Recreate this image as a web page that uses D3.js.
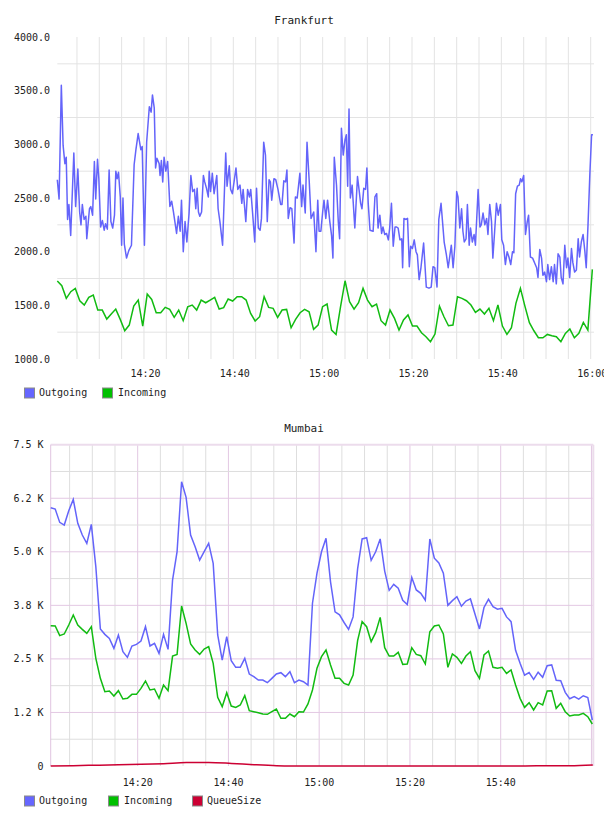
<!DOCTYPE html>
<html><head><meta charset="utf-8">
<script src="https://cdn.jsdelivr.net/npm/d3@7"></script>
<style>html,body{margin:0;padding:0;background:#fff;} text{font-family:"DejaVu Sans Mono",monospace;fill:#222;}</style>
</head><body><svg id="c" width="608" height="816"></svg>
<script>
// ---------- DATA ----------
const frankfurtTitle = "Frankfurt";
const mumbaiTitle = "Mumbai";
const seriesNames = ["Outgoing", "Incoming", "QueueSize"];

// Frankfurt outgoing: minutes after 14:00 and values
const fraOutMinutes = [0.6,1.0,1.5,1.9,2.3,2.6,2.9,3.2,3.6,4.3,4.7,5.2,5.6,5.9,6.2,6.6,7.0,7.2,7.8,8.1,8.5,8.9,9.2,9.6,9.9,10.3,10.7,11.1,11.4,11.8,12.2,12.6,13.0,13.4,13.7,14.0,14.3,14.7,15.0,15.3,15.6,16.1,16.6,17.2,17.8,18.2,18.7,19.3,19.6,20.1,20.6,21.2,21.6,21.9,22.3,22.6,22.9,23.4,23.6,23.9,24.2,24.5,24.9,25.3,25.8,26.2,26.6,27.3,27.7,28.1,28.4,28.8,29.2,29.6,30.1,30.5,30.9,31.3,31.6,31.9,32.2,32.5,32.9,33.3,33.6,34.0,34.4,34.6,34.9,35.3,35.7,36.3,36.6,37.0,37.6,38.3,38.6,39.1,39.4,39.8,40.6,41.0,41.5,41.9,42.2,42.8,43.2,43.6,43.9,44.3,44.8,45.2,45.6,46.0,46.3,46.8,47.2,47.6,48.0,48.3,48.6,49.1,49.5,50.0,50.6,50.9,51.3,51.7,52.0,52.3,52.7,53.1,53.6,53.9,54.3,54.9,55.3,55.6,56.1,56.5,57.0,57.4,57.7,58.0,58.5,58.9,59.2,59.6,60.0,60.3,60.7,61.1,61.6,62.0,62.3,62.6,63.1,63.5,63.8,64.2,64.6,65.0,65.3,65.6,65.9,66.2,66.6,67.2,67.8,68.2,68.5,68.8,69.2,69.6,69.9,70.2,70.6,71.3,71.7,72.1,72.4,72.8,73.2,73.5,73.9,74.3,74.7,75.0,75.4,75.8,76.2,76.5,76.9,77.3,77.7,77.9,78.2,78.6,79.0,79.4,79.7,80.1,80.5,80.9,81.2,81.6,82.0,82.6,83.2,83.8,84.3,84.7,85.1,85.6,86.0,86.5,87.2,87.7,88.1,88.5,88.8,89.2,89.6,90.0,90.3,90.7,91.1,91.4,91.7,92.1,92.4,92.8,93.1,93.5,93.9,94.2,94.8,95.2,95.5,95.9,96.3,96.7,97.0,97.4,97.8,98.1,98.5,98.9,99.3,99.8,100.1,100.5,100.9,101.3,101.7,102.1,102.5,102.8,103.2,103.6,104.0,104.3,104.6,105.0,105.4,105.8,106.1,106.5,107.0,107.5,107.9,108.2,108.6,109.0,109.3,109.7,110.1,110.4,110.8,111.2,111.6,111.9,112.3,112.7,113.1,113.4,113.8,114.2,114.6,114.9,115.3,115.7,116.0,116.4,116.8,117.2,117.5,117.9,118.3,118.7,119.0,119.4,119.8,120.2,120.5];
const fraOutValues = [2670,2490,3550,2990,2820,2880,2300,2440,2150,2920,2420,2770,2370,2250,2440,2300,2330,2120,2400,2420,2340,2840,2490,2860,2680,2230,2290,2200,2260,2210,2760,2280,2220,2340,2750,2680,2740,2510,2060,2500,2070,1940,2010,2060,2810,2950,3100,2950,2980,2060,3020,3350,3300,3460,3340,2780,2870,2820,2710,2850,2650,2880,2750,2840,2420,2470,2370,2170,2330,2190,2480,2000,2280,2090,2360,2710,2560,2580,2400,2590,2370,2330,2370,2710,2650,2590,2510,2750,2560,2730,2540,2710,2400,2280,2060,2920,2610,2800,2580,2540,2780,2580,2620,2450,2580,2280,2580,2510,2580,2370,2090,2590,2220,2200,2310,3020,2900,2280,2670,2650,2480,2680,2670,2580,2440,2440,2660,2650,2760,2310,2410,2400,2080,2510,2500,2730,2420,2620,2360,3020,2650,2310,2340,2370,2000,2480,2190,2190,2370,2480,2310,2480,2280,2150,1940,2880,2620,2280,2120,3150,2900,3040,3090,2610,3330,2500,2620,2220,2700,2560,2450,2400,2590,2580,2780,2450,2200,2190,2510,2540,2220,2340,2170,2230,2160,2170,2110,2220,2450,2050,2230,2230,2220,2110,2120,1850,2310,2300,2310,1860,2050,2030,2110,2000,1970,1740,1850,2080,1670,1660,1670,1860,1850,1670,2300,2450,2090,1970,1850,1970,2060,1850,2050,2560,2510,2220,2400,2190,2090,2120,2440,2060,2220,2090,2160,2060,2580,2230,2250,2360,2250,2310,2160,2440,2280,1940,2190,2450,2340,2440,2110,2060,1880,2000,1950,1880,2000,1990,2540,2610,2620,2680,2650,2710,2160,2280,2340,1950,1940,1890,1850,1760,2020,1940,1780,1810,1720,1880,1740,1860,1720,1880,1700,1980,1950,1760,1700,2060,1850,1940,1760,2030,1900,1810,1830,2120,1950,2090,2160,2000,1850,2250,2710,3090,3090];
// Frankfurt incoming: one value per minute, 14:00:36 .. 16:00:22
const fraInSpan = [0.6, 120.37];
const fraInValues = [1726,1683,1565,1627,1658,1543,1503,1574,1596,1456,1456,1372,1419,1465,1369,1263,1316,1493,1549,1307,1605,1555,1431,1431,1481,1462,1388,1456,1357,1487,1503,1456,1549,1524,1549,1574,1465,1478,1559,1540,1580,1580,1549,1425,1354,1394,1580,1481,1472,1388,1456,1462,1291,1369,1431,1462,1440,1276,1316,1487,1512,1270,1229,1487,1729,1534,1465,1524,1658,1549,1487,1512,1357,1316,1456,1378,1270,1363,1410,1307,1307,1245,1208,1161,1232,1493,1394,1310,1316,1580,1565,1543,1503,1434,1465,1419,1472,1357,1503,1307,1229,1291,1518,1658,1493,1338,1263,1198,1198,1229,1217,1208,1161,1239,1279,1198,1239,1341,1270,1835];
const fraXDomain = [0.6, 120.74];
const fraYTicks = [1000,1500,2000,2500,3000,3500,4000];
const fraYTickLabels = ["1000.0","1500.0","2000.0","2500.0","3000.0","3500.0","4000.0"];
const fraXTickLabels = ["14:20","14:40","15:00","15:20","15:40","16:00"];

// Mumbai: one sample per minute
const mumSpan = [0.83, 120.19];
const mumOutValues = [6029,5998,5687,5625,5959,6224,5664,5392,5197,5641,4652,3200,3073,2980,2746,3058,2669,2536,2801,2840,2918,3252,2801,2863,2630,3073,2723,4341,5002,6636,6271,5392,5119,4808,5002,5197,4730,3058,2474,3019,2458,2303,2303,2513,2147,2085,2007,2007,1945,2046,2147,2178,2085,2202,1945,2007,1968,1890,3800,4500,5000,5314,4300,3600,3530,3350,3190,3480,4600,5300,5330,4800,5000,5300,4550,4100,4240,4150,3870,3770,4400,4110,4030,3870,5300,4850,4740,4500,3750,3860,3950,3730,3850,3900,3550,3200,3700,3890,3720,3660,3680,3480,3370,2700,2400,2120,2180,2020,2190,2070,2340,2360,2000,1990,1720,1570,1620,1560,1640,1600,1074];
const mumInValues = [3275,3268,3042,3081,3291,3524,3291,3190,3096,3252,2513,2046,1735,1751,1634,1758,1564,1579,1673,1673,1813,1984,1774,1797,1579,1891,1758,2567,2606,3734,3330,2848,2708,2606,2731,2785,2396,1603,1385,1712,1400,1369,1424,1642,1292,1268,1245,1214,1206,1268,1330,1112,1112,1214,1151,1268,1260,1450,1774,2280,2552,2708,2357,2046,2046,1929,1890,2124,2925,3369,3252,2902,3112,3470,2762,2567,2567,2653,2373,2381,2762,2606,2575,2381,3135,3268,3291,3081,2303,2614,2536,2396,2567,2669,2225,2046,2591,2684,2303,2280,2303,2163,2241,1891,1579,1369,1478,1307,1478,1424,1751,1758,1346,1463,1268,1167,1190,1190,1229,1151,980];
const mumQueueSpan = [0.83, 120.3];
const mumQueueValues = [0,8,18,28,40,55,80,82,60,30,8,2,0,0,0,0,0,0,0,0,0,2,5,8,25];
const mumXDomain = [0.83, 120.41];
const mumYTicks = [0,1250,2500,3750,5000,6250,7500];
const mumYTickLabels = ["0","1.2 K","2.5 K","3.8 K","5.0 K","6.2 K","7.5 K"];
const mumXTickLabels = ["14:20","14:40","15:00","15:20","15:40"];

// ---------- STYLE ----------
const colors = {Outgoing:"#6666ff", Incoming:"#00c000", QueueSize:"#cc0033"};
const lineColors = {Outgoing:"#6464fa", Incoming:"#11bb11", QueueSize:"#cc0033"};

// ---------- HELPERS ----------
const base = new Date(2020,0,1,14,0,0).getTime();
const tm = m => new Date(base + m*60000);
const parseHM = s => { const [h,mm] = s.split(":").map(Number); return (h-14)*60+mm; };
const spread = (vals, span) => vals.map((v,i) => ({t: tm(span[0] + (span[1]-span[0])*i/(vals.length-1)), v}));

const svg = d3.select("#c");
svg.append("rect").attr("width",608).attr("height",816).attr("fill","#fff");
svg.append("defs").append("clipPath").attr("id","topclip")
  .append("rect").attr("x",0).attr("y",0).attr("width",604).attr("height",410);

function legend(g, y, names, xs, txs) {
  names.forEach((n,i) => {
    g.append("rect").attr("x",xs[i]).attr("y",y-4.5).attr("width",10).attr("height",10)
      .attr("fill",colors[n]).attr("stroke","#8a8a8a").attr("stroke-width",1);
    g.append("text").attr("x",txs[i]).attr("y",y).attr("dy","0.35em")
      .attr("font-size",10).text(n);
  });
}

// ---------- FRANKFURT ----------
{
  const g = svg.append("g").attr("clip-path","url(#topclip)");
  const x = d3.scaleTime().domain(fraXDomain.map(tm)).range([57.3, 594]);
  const y = d3.scaleLinear().domain([1000,4000]).range([359, 37]);
  const gridC = "#e3e3e3";
  const vt = d3.range(5, 121, 5).map(tm).filter(d => x(d) >= 57 && x(d) <= 594);
  g.selectAll(".vg").data(vt).join("line")
    .attr("x1",d=>x(d)).attr("x2",d=>x(d)).attr("y1",37).attr("y2",359)
    .attr("stroke",gridC).attr("stroke-width",1);
  const ht = d3.range(1250, 4000, 500);
  g.selectAll(".hg").data(ht).join("line")
    .attr("x1",57.3).attr("x2",594).attr("y1",d=>y(d)).attr("y2",d=>y(d))
    .attr("stroke",gridC).attr("stroke-width",1);
  g.selectAll(".yl").data(fraYTicks).join("text")
    .attr("x",50).attr("y",d=>y(d)).attr("dy","0.35em").attr("text-anchor","end")
    .attr("font-size",10).text((d,i)=>fraYTickLabels[i]);
  g.selectAll(".xl").data(fraXTickLabels).join("text")
    .attr("x",d=>x(tm(parseHM(d)))+1.5).attr("y",373).attr("dy","0.35em").attr("text-anchor","middle")
    .attr("font-size",10).text(d=>d);
  g.append("text").attr("x",304).attr("y",20.5).attr("dy","0.35em").attr("text-anchor","middle")
    .attr("font-size",11).text(frankfurtTitle);
  const line = d3.line().x(d=>x(d.t)).y(d=>y(d.v));
  const inc = spread(fraInValues, fraInSpan);
  const out = fraOutValues.map((v,i)=>({t:tm(fraOutMinutes[i]), v}));
  g.append("path").datum(inc).attr("d",line).attr("fill","none").attr("stroke",lineColors.Incoming).attr("stroke-width",1.5);
  g.append("path").datum(out).attr("d",line).attr("fill","none").attr("stroke",lineColors.Outgoing).attr("stroke-width",1.5).attr("stroke-linejoin","round");
  legend(g, 392.5, ["Outgoing","Incoming"], [24.5,102.5], [39,118]);
}

// ---------- MUMBAI ----------
{
  const g = svg.append("g");
  const L = 50.7, R = 593.3, T = 444.7, B = 766;
  const x = d3.scaleTime().domain(mumXDomain.map(tm)).range([L, R]);
  const y = d3.scaleLinear().domain([0,7500]).range([B, T]);
  const minorC = "#dedede", majorC = "#e3c8e3";
  const vt = d3.range(5, 121, 5).filter(m => x(tm(m)) > L+1 && x(tm(m)) < R-1);
  g.selectAll(".vg").data(vt).join("line")
    .attr("x1",d=>x(tm(d))).attr("x2",d=>x(tm(d))).attr("y1",T).attr("y2",B)
    .attr("stroke",d => d%20===0 ? majorC : minorC).attr("stroke-width",1);
  const ht = d3.range(625, 7500, 625);
  g.selectAll(".hg").data(ht).join("line")
    .attr("x1",L).attr("x2",R).attr("y1",d=>y(d)).attr("y2",d=>y(d))
    .attr("stroke",d => d%1250===0 ? majorC : minorC).attr("stroke-width",1);
  g.append("line").attr("x1",L).attr("x2",R).attr("y1",T).attr("y2",T).attr("stroke","#ecdcec").attr("stroke-width",2);
  g.append("line").attr("x1",L).attr("x2",L).attr("y1",T).attr("y2",B).attr("stroke","#e0c4e0").attr("stroke-width",1);
  g.append("line").attr("x1",R).attr("x2",R).attr("y1",T).attr("y2",B).attr("stroke","#ecdcec").attr("stroke-width",2);
  g.selectAll(".yl").data(mumYTicks).join("text")
    .attr("x",43.5).attr("y",d=>y(d)).attr("dy","0.35em").attr("text-anchor","end")
    .attr("font-size",10).text((d,i)=>mumYTickLabels[i]);
  g.selectAll(".xl").data(mumXTickLabels).join("text")
    .attr("x",d=>x(tm(parseHM(d)))).attr("y",782).attr("dy","0.35em").attr("text-anchor","middle")
    .attr("font-size",10).text(d=>d);
  g.append("text").attr("x",304).attr("y",428).attr("dy","0.35em").attr("text-anchor","middle")
    .attr("font-size",11).text(mumbaiTitle);
  const line = d3.line().x(d=>x(d.t)).y(d=>y(d.v));
  const q = spread(mumQueueValues, mumQueueSpan);
  const inc = spread(mumInValues, mumSpan);
  const out = spread(mumOutValues, mumSpan);
  g.append("path").datum(out).attr("d",line).attr("fill","none").attr("stroke",lineColors.Outgoing).attr("stroke-width",1.5);
  g.append("path").datum(inc).attr("d",line).attr("fill","none").attr("stroke",lineColors.Incoming).attr("stroke-width",1.5);
  g.append("path").datum(q).attr("d",d3.line().x(d=>x(d.t)).y(d=>y(d.v)).curve(d3.curveMonotoneX)).attr("fill","none").attr("stroke",lineColors.QueueSize).attr("stroke-width",1.5);
  legend(g, 800.5, ["Outgoing","Incoming","QueueSize"], [24.5,108.5,192.5], [39,124,207]);
}
</script></body></html>
